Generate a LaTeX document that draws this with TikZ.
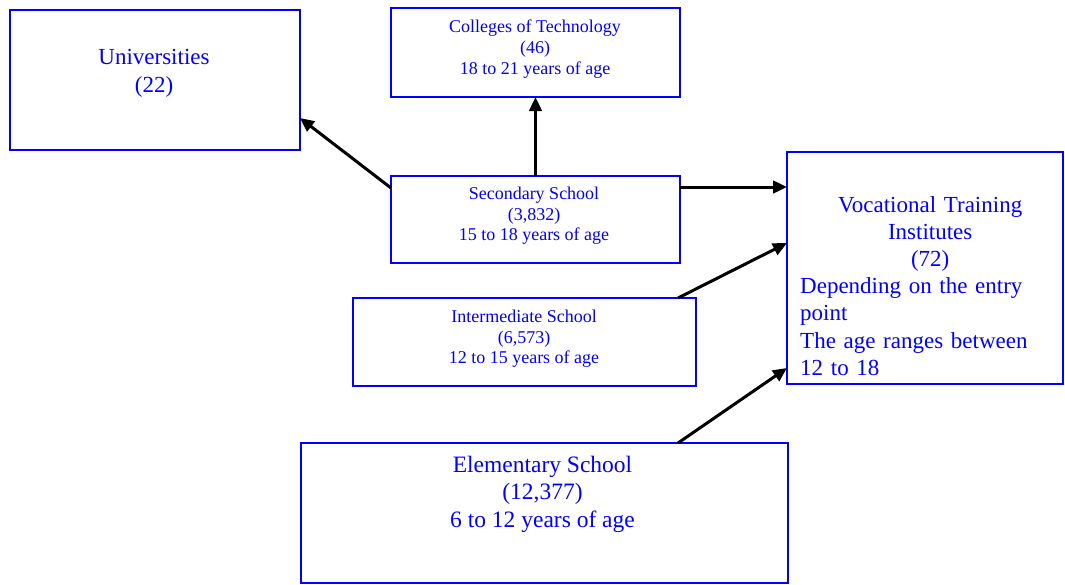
\documentclass[tikz,border=0pt]{standalone}
\usepackage{fontspec}
\setmainfont{Liberation Serif}
\usetikzlibrary{arrows.meta}
\definecolor{bx}{RGB}{0,0,255}
\begin{document}
\begin{tikzpicture}[x=1pt,y=-1pt,
  box/.style={draw=bx,line width=2pt,inner sep=0pt,outer sep=0pt},
  txt/.style={text=bx,inner sep=0pt,align=center,anchor=north},
  big/.style={font=\fontsize{23}{27.8}\selectfont},
  small/.style={font=\fontsize{18}{20.8}\selectfont},
  arr/.style={line width=3pt,-{Triangle[length=14pt,width=12.5pt]}}]
\fill[white] (0,0) rectangle (1065,584);
\useasboundingbox (0,0) rectangle (1065,584);

\node[box,minimum width=290pt,minimum height=140pt] (uni) at (155,80) {};
\node[box,minimum width=289pt,minimum height=89pt] (col) at (535.5,52.5) {};
\node[box,minimum width=289pt,minimum height=87pt] (sec) at (535.5,219.5) {};
\node[box,minimum width=343pt,minimum height=88pt] (int) at (524.5,342) {};
\node[box,minimum width=487pt,minimum height=140pt] (ele) at (544.5,513) {};
\node[box,minimum width=276pt,minimum height=232pt] (voc) at (925,268) {};

\node[txt,big] (unit) at (154,49) {Universities\\(22)};
\node[txt,small] (colt) at (535,19.6) {Colleges of Technology\\(46)\\18 to 21 years of age};
\node[txt,small] (sect) at (534,186.6) {Secondary School\\(3,832)\\15 to 18 years of age};
\node[txt,small] (intt) at (524,309.6) {Intermediate School\\(6,573)\\12 to 15 years of age};
\node[txt,font=\fontsize{23.5}{27.5}\selectfont] (elet) at (542.5,455.8) {Elementary School\\(12,377)\\6 to 12 years of age};
\node[text=bx,inner sep=0pt,anchor=north west,text width=260pt,align=left,
      font=\fontsize{23}{27.2}\selectfont] (voct) at (800,196)
 {\makebox[\linewidth]{Vocational Training}\\\makebox[\linewidth]{Institutes}\\\makebox[\linewidth]{(72)}\\Depending on the entry\\point\\The age ranges between\\12 to 18};

\draw[arr] ([yshift=-12pt]sec.north west) -- ([yshift=-38pt]uni.east);
\draw[arr] (sec.north) -- (col.south);
\coordinate (s1) at ([yshift=-11pt]sec.north east);
\draw[arr] (s1) -- (s1 -| voc.west);
\draw[arr] ([xshift=-18pt]int.north east) -- ([yshift=-91pt]voc.north west);
\draw[arr] ([xshift=-110pt]ele.north east) -- ([yshift=16pt]voc.south west);
\end{tikzpicture}
\end{document}
